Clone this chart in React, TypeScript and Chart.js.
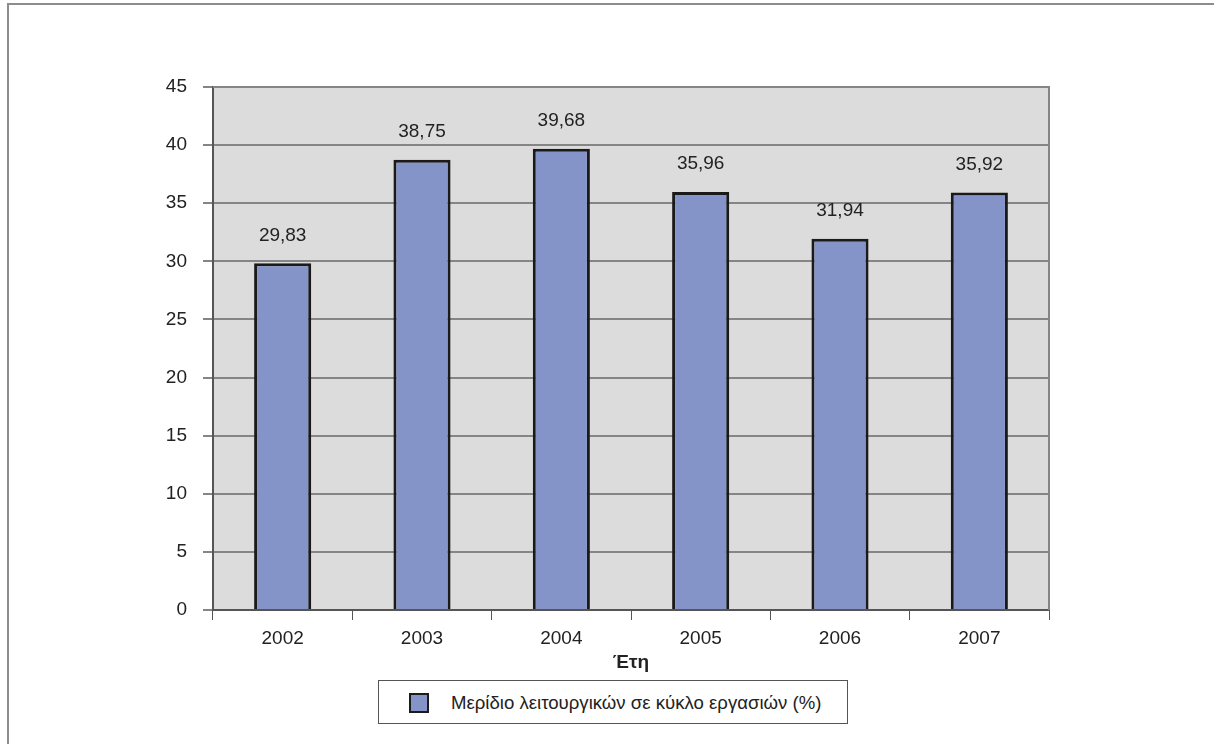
import React, { useEffect, useRef } from "react";
import { Chart, registerables } from "chart.js";

Chart.register(...registerables);

const categories = ["2002", "2003", "2004", "2005", "2006", "2007"];
const shareValues = [29.83, 38.75, 39.68, 35.96, 31.94, 35.92];
const seriesLabel = "Μερίδιο λειτουργικών σε κύκλο εργασιών (%)";
const axisTitle = "Έτη";
const yMin = 0;
const yMax = 45;
const yStep = 5;

const FONT = "'Liberation Sans', Arial, sans-serif";
const FONT_SIZE = 19;
const BAR_COLOR = "#8494c9";
const TEXT_COLOR = "#222222";

const plotBgPlugin = {
  id: "plotBg",
  beforeDraw(chart: any) {
    const { ctx, chartArea } = chart;
    ctx.save();
    ctx.fillStyle = "#dcdcdc";
    ctx.fillRect(chartArea.left, chartArea.top, chartArea.right - chartArea.left, chartArea.bottom - chartArea.top);
    ctx.restore();
  },
  afterDraw(chart: any) {
    const { ctx, chartArea } = chart;
    ctx.save();
    ctx.strokeStyle = "#858585";
    ctx.lineWidth = 2;
    ctx.beginPath();
    ctx.moveTo(chartArea.left, chartArea.top);
    ctx.lineTo(chartArea.right, chartArea.top);
    ctx.lineTo(chartArea.right, chartArea.bottom);
    ctx.stroke();
    ctx.restore();
  },
};

const valueLabelPlugin = {
  id: "valueLabels",
  afterDatasetsDraw(chart: any) {
    const { ctx } = chart;
    const meta = chart.getDatasetMeta(0);
    ctx.save();
    ctx.font = `${FONT_SIZE}px ${FONT}`;
    ctx.fillStyle = TEXT_COLOR;
    ctx.textAlign = "center";
    ctx.textBaseline = "middle";
    meta.data.forEach((bar: any, i: number) => {
      const v = chart.data.datasets[0].data[i] as number;
      ctx.fillText(v.toFixed(2).replace(".", ","), bar.x, bar.y - 28);
    });
    ctx.restore();
  },
};

export default function App() {
  const canvasRef = useRef<HTMLCanvasElement | null>(null);

  useEffect(() => {
    if (!canvasRef.current) return;
    const chart = new Chart(canvasRef.current, {
      type: "bar",
      data: {
        labels: categories,
        datasets: [
          {
            label: seriesLabel,
            data: shareValues,
            backgroundColor: BAR_COLOR,
            borderColor: "#1a1a1a",
            borderWidth: 3,
            categoryPercentage: 1,
            barPercentage: 0.41,
          },
        ],
      },
      options: {
        animation: false,
        responsive: false,
        devicePixelRatio: 1,
        layout: { padding: { left: 0, right: 165, top: 87, bottom: 70 } },
        plugins: {
          legend: { display: false },
          tooltip: { enabled: false },
        },
        scales: {
          x: {
            grid: {
              display: true,
              drawOnChartArea: false,
              drawTicks: true,
              tickLength: 10,
              color: "#555555",
              offset: true,
            },
            border: { display: true, color: "#555555", width: 2 },
            ticks: {
              padding: 7,
              color: TEXT_COLOR,
              font: { family: FONT, size: FONT_SIZE },
            },
            title: {
              display: true,
              text: axisTitle,
              color: TEXT_COLOR,
              font: { family: FONT, size: FONT_SIZE, weight: "bold" },
              padding: { top: 0, bottom: 0 },
            },
            afterFit(scale: any) {
              scale.height = 64;
            },
          },
          y: {
            min: yMin,
            max: yMax,
            grid: {
              color: "#858585",
              lineWidth: 2,
              tickLength: 10,
            },
            border: { display: true, color: "#555555", width: 2 },
            ticks: {
              stepSize: yStep,
              padding: 16,
              color: TEXT_COLOR,
              font: { family: FONT, size: FONT_SIZE },
            },
            afterFit(scale: any) {
              scale.width = 213;
            },
          },
        },
      },
      plugins: [plotBgPlugin, valueLabelPlugin],
    });
    return () => chart.destroy();
  }, []);

  return (
    <div style={{ position: "fixed", left: 0, top: 0, width: 1214, height: 744, overflow: "hidden", background: "#ffffff" }}>
      <div
        style={{
          position: "absolute",
          left: 7,
          top: 3,
          width: 2000,
          height: 2000,
          borderLeft: "2px solid #8c8c8c",
          borderTop: "2px solid #8c8c8c",
        }}
      />
      <canvas ref={canvasRef} width={1214} height={744} style={{ position: "absolute", left: 0, top: 0 }} />
      <div
        style={{
          position: "absolute",
          left: 378,
          top: 680,
          width: 470,
          height: 44,
          boxSizing: "border-box",
          border: "1px solid #555555",
          background: "#ffffff",
        }}
      >
        <div
          style={{
            position: "absolute",
            left: 30,
            top: 12,
            width: 20,
            height: 20,
            boxSizing: "border-box",
            border: "2px solid #1c1c1c",
            background: BAR_COLOR,
          }}
        />
        <div
          style={{
            position: "absolute",
            left: 72,
            top: 0,
            height: 42,
            lineHeight: "44px",
            fontFamily: FONT,
            fontSize: 18.6,
            color: TEXT_COLOR,
            whiteSpace: "nowrap",
          }}
        >
          {seriesLabel}
        </div>
      </div>
    </div>
  );
}
